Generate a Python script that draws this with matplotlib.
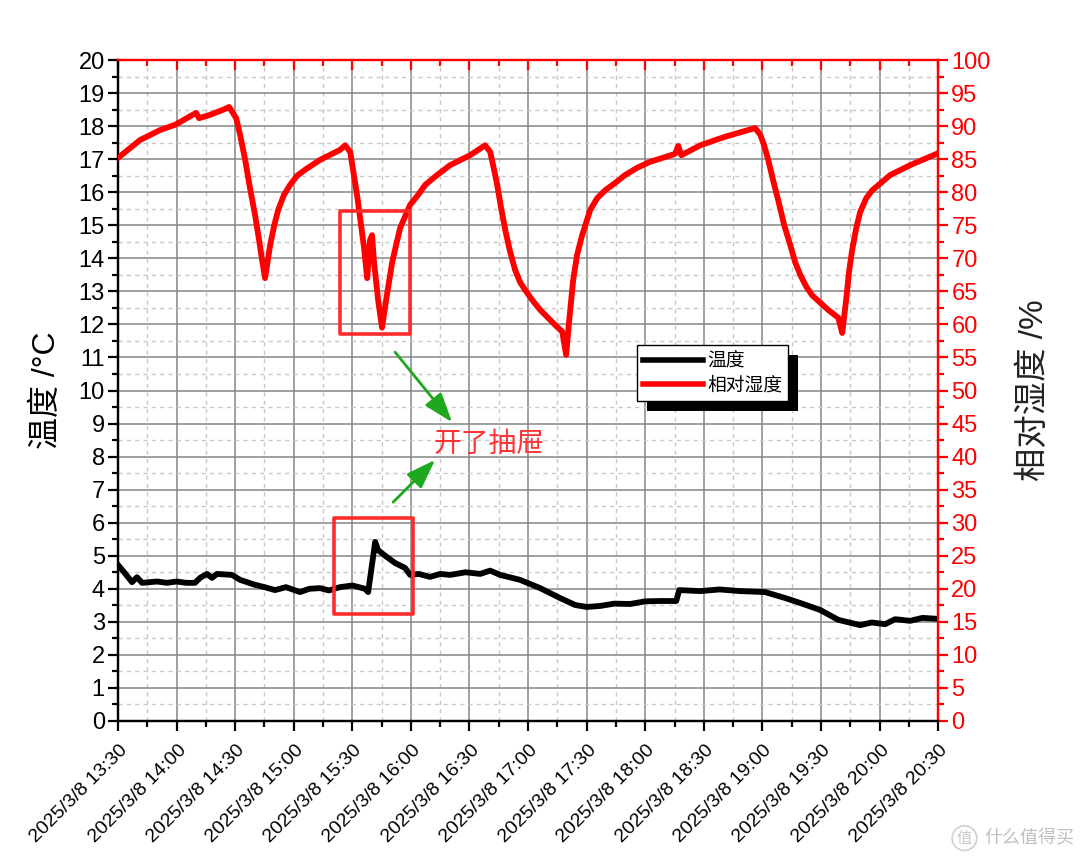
import datetime as dt
import matplotlib
matplotlib.use("Agg")
import matplotlib.pyplot as plt
import matplotlib.dates as mdates
from matplotlib.ticker import MultipleLocator, FuncFormatter
from matplotlib.patches import Rectangle
from matplotlib.lines import Line2D
from matplotlib.transforms import ScaledTranslation

plt.rcParams['font.family'] = ['Liberation Sans', 'Noto Sans CJK SC', 'DejaVu Sans']
plt.rcParams['axes.unicode_minus'] = False

# ---- data (minutes after 2025/3/8 13:30) ----
START = dt.datetime(2025, 3, 8, 13, 30)

rh_min = [0, 11.3, 21.5, 29.2, 40.0, 41.5, 47.1, 54.8, 56.9, 60.5, 62.5, 65.1, 67.6,
          70.2, 72.2, 73.8, 75.3, 77.9, 80.0, 82.0, 85.0, 88.1, 91.7, 95.8, 103.5,
          113.7, 116.3, 118.9, 122.4, 126.0, 127.6, 129.1, 130.1, 131.1, 133.2,
          135.2, 137.3, 140.4, 142.4, 144.5, 149.6, 153.7, 157.3, 163.4, 170.1,
          180.3, 188.0, 190.6, 192.6, 194.2, 196.2, 198.3, 200.8, 203.4, 205.9,
          208.5, 212.1, 216.2, 223.9, 227.5, 229.5, 231.1, 233.1, 235.1, 237.7,
          241.8, 245.4, 249.5, 254.6, 259.7, 265.9, 272.5, 285.3, 286.9, 288.5,
          298.2, 311.0, 322.7, 326.3, 328.9, 330.9, 333.0, 335.5, 338.1, 341.2,
          344.3, 346.8, 349.4, 352.5, 355.5, 363.7, 368.9, 370.9, 372.9, 374.5,
          376.0, 378.1, 380.1, 383.2, 386.3, 395.5, 405.7, 420.0]
rh_val = [85.2, 87.9, 89.4, 90.2, 92.0, 91.2, 91.7, 92.6, 92.9, 91.2, 88.7, 84.9, 80.6,
          76.5, 72.8, 69.7, 67.0, 72.0, 75.0, 77.3, 79.6, 81.1, 82.5, 83.4, 84.9,
          86.4, 87.1, 86.1, 79.6, 71.6, 67.0, 72.8, 73.5, 69.4, 63.7,
          59.5, 63.7, 69.4, 72.0, 74.6, 78.1, 79.6, 81.1, 82.6, 84.1,
          85.6, 87.1, 86.1, 83.4, 81.1, 77.6, 74.3, 71.0, 68.2, 66.4,
          65.2, 63.7, 62.2, 59.9, 58.9, 55.4, 60.7, 66.7, 70.5, 73.5,
          77.3, 79.1, 80.3, 81.4, 82.6, 83.7, 84.6, 85.8, 87.0, 85.6,
          87.1, 88.4, 89.4, 89.7, 88.7, 87.1, 84.9, 81.8, 78.8, 75.0,
          72.0, 69.4, 67.5, 65.7, 64.4, 62.2, 61.0, 58.7, 63.7, 68.2,
          71.3, 74.6, 77.0, 79.1, 80.3, 82.6, 84.1, 85.9]

t_min = [0, 3.1, 7.2, 9.7, 12.3, 20.0, 25.0, 30.0, 35.0, 39.4, 42.0, 45.6, 48.1,
         50.7, 58.4, 62.5, 70.2, 75.0, 80.4, 86.0, 93.2, 98.0, 103.5, 108.0,
         113.7, 120.0, 126.5, 128.1, 131.7, 133.2, 136.8, 141.9, 147.0, 149.6,
         154.0, 159.8, 165.0, 170.1, 178.0, 185.5, 190.6, 195.7, 205.9, 216.2,
         226.4, 234.1, 240.0, 246.9, 254.0, 262.3, 270.0, 277.7, 285.9, 287.4,
         298.2, 308.0, 318.6, 331.4, 341.7, 349.4, 359.6, 368.9, 380.1, 386.0,
         392.9, 398.0, 405.7, 412.0, 420.0]
t_val = [4.72, 4.5, 4.2, 4.35, 4.18, 4.22, 4.18, 4.22, 4.18, 4.18, 4.33, 4.45, 4.33,
         4.45, 4.42, 4.27, 4.12, 4.05, 3.96, 4.05, 3.9, 4.0, 4.02, 3.95,
         4.05, 4.1, 4.0, 3.9, 5.42, 5.17, 5.0, 4.78, 4.63, 4.42,
         4.45, 4.36, 4.45, 4.42, 4.5, 4.45, 4.55, 4.42, 4.27, 4.02,
         3.72, 3.51, 3.45, 3.48, 3.55, 3.54, 3.62, 3.63, 3.63, 3.96,
         3.93, 3.98, 3.93, 3.9, 3.72, 3.57, 3.36, 3.06, 2.9, 2.98,
         2.93, 3.08, 3.03, 3.12, 3.09]

rh_time = [START + dt.timedelta(minutes=m) for m in rh_min]
t_time = [START + dt.timedelta(minutes=m) for m in t_min]


def at(m):
    return mdates.date2num(START + dt.timedelta(minutes=m))


fig = plt.figure(figsize=(10.8, 8.65), dpi=100, facecolor='white')
ax = fig.add_axes([0.1093, 0.1665, 0.7593, 0.7641])
ax2 = ax.twinx()

ax.plot(t_time, t_val, color='black', lw=4.2, solid_joinstyle='round', zorder=3)
ax2.plot(rh_time, rh_val, color='red', lw=4.2, solid_joinstyle='round', zorder=3)

ax.set_xlim(START, START + dt.timedelta(hours=7))
ax.set_ylim(0, 20)
ax2.set_ylim(0, 100)

ax.xaxis.set_major_locator(mdates.MinuteLocator(byminute=[0, 30]))
ax.xaxis.set_minor_locator(mdates.MinuteLocator(byminute=[15, 45]))
ax.xaxis.set_major_formatter(FuncFormatter(
    lambda x, p: (lambda d: f"{d.year}/{d.month}/{d.day} {d:%H:%M}")(mdates.num2date(x))))
ax.yaxis.set_major_locator(MultipleLocator(1))
ax.yaxis.set_minor_locator(MultipleLocator(0.5))
ax2.yaxis.set_major_locator(MultipleLocator(5))
ax2.yaxis.set_minor_locator(MultipleLocator(2.5))

# grid
ax.grid(which='major', color='#858585', lw=1.1, zorder=0)
ax.grid(which='minor', color='#c8c8c8', lw=1.0, ls=(0, (3, 3)), zorder=0)
ax.set_axisbelow(True)

# spines
for a in (ax, ax2):
    for s in a.spines.values():
        s.set_linewidth(1.6)
    a.spines['left'].set_color('black')
    a.spines['bottom'].set_color('black')
    a.spines['top'].set_color('red')
    a.spines['right'].set_color('red')

ax.tick_params(axis='y', which='major', length=7.5, width=1.6, labelsize=17, pad=2)
ax.tick_params(axis='y', which='minor', length=4, width=1.6)
ax.tick_params(axis='x', which='major', length=7.5, width=1.6, labelsize=14,
               pad=12, top=False)
ax.tick_params(axis='x', which='minor', length=4, width=1.6, top=False)
ax2.tick_params(axis='y', which='major', length=7.5, width=1.6, labelsize=17, pad=2,
                colors='red')
ax2.tick_params(axis='y', which='minor', length=4, width=1.6, colors='red')

# red inward ticks along the top
ax2.xaxis.set_visible(True)
ax2.xaxis.tick_top()
ax2.tick_params(axis='x', which='major', direction='in', length=7.5, width=1.6,
                color='red', labeltop=False, labelbottom=False, bottom=False)
ax2.tick_params(axis='x', which='minor', direction='in', length=4, width=1.6,
                color='red', bottom=False)

for lab in ax.get_xticklabels():
    lab.set_rotation(45)
    lab.set_ha('right')
    lab.set_va('center')
    lab.set_rotation_mode('anchor')
    lab.set_transform(lab.get_transform() + ScaledTranslation(5 / 72, 0, fig.dpi_scale_trans))

ax.set_ylabel('温度 /°C', fontsize=23)
ax.yaxis.set_label_coords(-0.068, 0.5)
ax2.set_ylabel('相对湿度 /%', fontsize=24, color='#222222')
ax2.yaxis.set_label_coords(1.098, 0.5)

# annotation boxes
box_color = '#ff2b2b'
ax2.add_patch(Rectangle((at(113.7), 58.6), at(149.6) - at(113.7), 77.2 - 58.6,
                        fill=False, ec=box_color, lw=2.6, joinstyle='round', zorder=5))
ax2.add_patch(Rectangle((at(110.7), 16.2), at(151.1) - at(110.7), 30.7 - 16.2,
                        fill=False, ec=box_color, lw=2.6, joinstyle='round', zorder=5))

green = '#1ea81e'
arrow_kw = dict(arrowstyle='-|>,head_length=1.0,head_width=0.35', color=green, lw=2,
                shrinkA=0, shrinkB=0, mutation_scale=18)
ax2.annotate('', xy=(at(171.1), 45.2), xytext=(at(141.9), 55.8),
             arrowprops=arrow_kw, zorder=6)
ax2.annotate('', xy=(at(162.4), 39.5), xytext=(at(140.9), 33.1),
             arrowprops=arrow_kw, zorder=6)
ax2.text(at(161.4), 41.9, '开了抽屉', color='#ff3333', fontsize=20,
         ha='left', va='center', family=['Noto Sans CJK SC'], zorder=6)

# legend with hard black shadow
handles = [Line2D([], [], color='black', lw=4), Line2D([], [], color='red', lw=4)]
leg = fig.legend(handles, ['温度', '相对湿度'], loc='upper left',
                 bbox_to_anchor=(0.5898, 0.6012), frameon=True, fancybox=False,
                 edgecolor='black', framealpha=1, borderpad=0.3, handlelength=3.2,
                 handletextpad=0.25, labelspacing=0.15, borderaxespad=0,
                 prop={'family': ['Noto Sans CJK SC'], 'size': 13.5})
leg.get_frame().set_linewidth(1.0)
leg.set_zorder(10)
fig.canvas.draw()
bb = leg.get_window_extent()
fig.add_artist(Rectangle((bb.x0 + 10, bb.y0 - 10), bb.width, bb.height,
                         transform=None, fc='black', ec='none', zorder=9))

# watermark
fig.text(0.893, 0.031, '值', fontsize=11, color='#c8c8c8', ha='center', va='center',
         family=['Noto Sans CJK SC'],
         bbox=dict(boxstyle='circle,pad=0.25', fc='none', ec='#d0d0d0', lw=1.2))
fig.text(0.995, 0.031, '什么值得买', fontsize=13, color='#c0c0c0', ha='right',
         va='center', family=['Noto Sans CJK SC'])

fig.savefig('out.png', dpi=100)
